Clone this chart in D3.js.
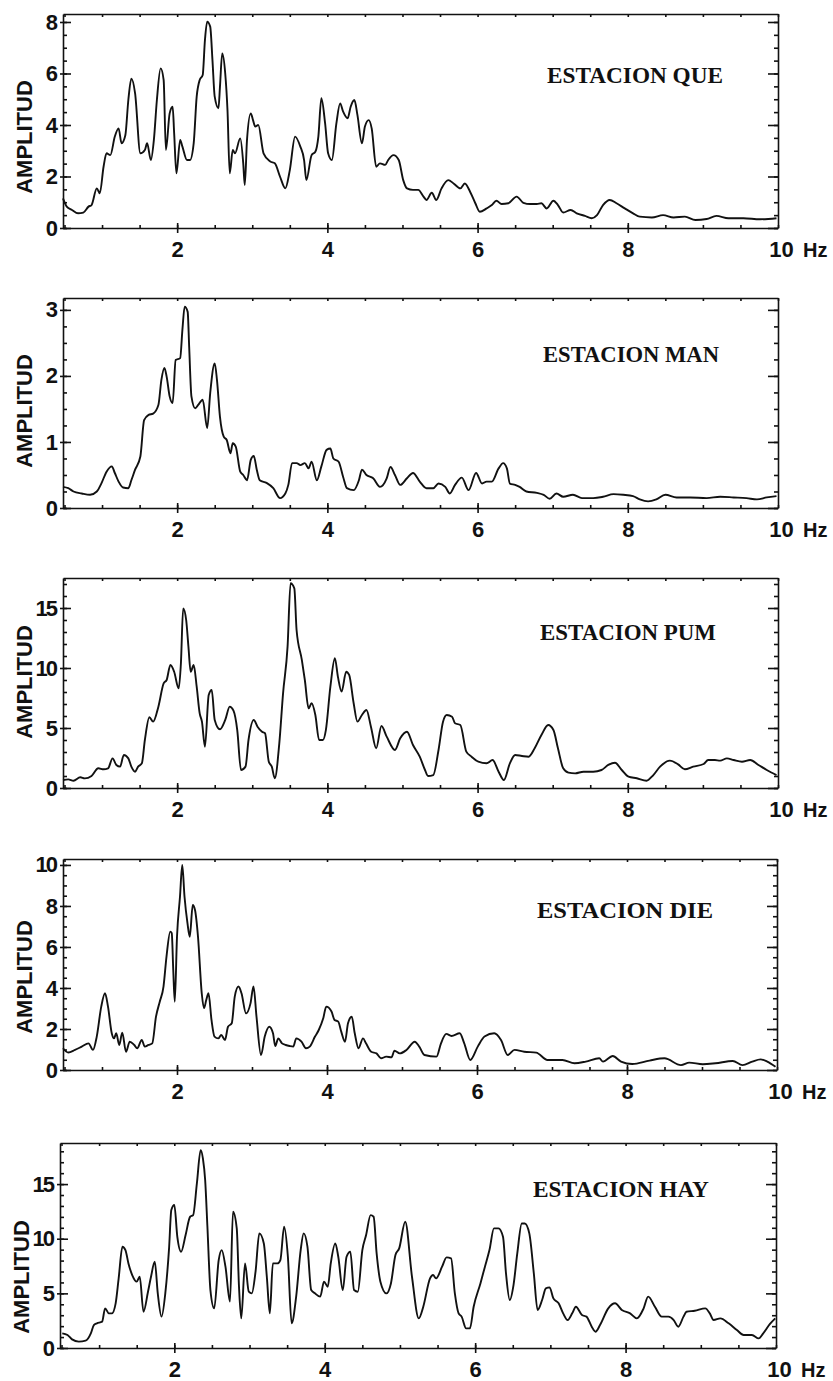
<!DOCTYPE html>
<html>
<head>
<meta charset="utf-8">
<script src="https://cdn.jsdelivr.net/npm/d3@7"></script>
<style>
  body { margin: 0; background: #fff; }
</style>
</head>
<body>
<div id="chart"></div>
<script>
// nombres de las estaciones
var stations = ["QUE", "MAN", "PUM", "DIE", "HAY"];

// espectros [frecuencia Hz, amplitud]
var que = [[0.48,1.15],[0.53,0.83],[0.6,0.7],[0.68,0.57],[0.75,0.6],[0.82,0.83],[0.86,0.89],[0.93,1.54],[0.97,1.35],[1.02,2.38],[1.06,2.9],[1.11,2.83],[1.17,3.55],[1.22,3.87],[1.26,3.29],[1.31,3.6],[1.35,4.97],[1.39,5.8],[1.44,5.23],[1.51,2.9],[1.57,3.03],[1.6,3.29],[1.65,2.64],[1.69,3.42],[1.73,4.97],[1.78,6.2],[1.82,5.75],[1.85,3.03],[1.9,4.45],[1.94,4.71],[1.96,3.68],[1.99,2.12],[2.04,3.42],[2.07,3.16],[2.13,2.64],[2.17,2.64],[2.22,3.29],[2.26,5.1],[2.3,5.75],[2.34,5.94],[2.37,7.3],[2.4,8.01],[2.44,7.82],[2.47,6.52],[2.5,5.1],[2.55,4.65],[2.57,5.49],[2.6,6.78],[2.64,6.0],[2.67,4.58],[2.7,2.12],[2.74,3.03],[2.77,2.9],[2.84,3.48],[2.88,2.51],[2.9,1.67],[2.93,3.42],[2.98,4.45],[3.01,4.19],[3.04,3.94],[3.08,4.0],[3.15,2.9],[3.24,2.58],[3.3,2.51],[3.37,1.99],[3.44,1.54],[3.5,2.25],[3.57,3.55],[3.64,3.16],[3.69,2.64],[3.72,1.86],[3.79,2.83],[3.84,2.96],[3.88,3.55],[3.92,5.04],[3.97,4.06],[4.01,2.9],[4.06,2.64],[4.12,4.06],[4.17,4.84],[4.21,4.52],[4.27,4.26],[4.31,4.71],[4.36,4.97],[4.4,4.39],[4.46,3.29],[4.5,3.94],[4.55,4.19],[4.59,3.87],[4.65,2.38],[4.7,2.51],[4.77,2.45],[4.81,2.64],[4.88,2.83],[4.95,2.64],[5.01,1.86],[5.06,1.54],[5.14,1.48],[5.21,1.48],[5.28,1.22],[5.32,1.09],[5.39,1.37],[5.45,1.09],[5.52,1.54],[5.61,1.86],[5.68,1.73],[5.77,1.54],[5.83,1.73],[5.9,1.41],[5.97,0.96],[6.03,0.63],[6.12,0.76],[6.19,0.89],[6.25,1.06],[6.32,0.93],[6.41,0.96],[6.52,1.22],[6.61,0.98],[6.7,0.93],[6.79,0.93],[6.85,0.96],[6.92,0.76],[7.01,1.06],[7.07,0.89],[7.14,0.6],[7.24,0.7],[7.32,0.57],[7.43,0.47],[7.52,0.38],[7.59,0.5],[7.67,0.89],[7.76,1.09],[7.85,0.96],[7.96,0.76],[8.07,0.57],[8.16,0.44],[8.32,0.41],[8.47,0.5],[8.61,0.41],[8.76,0.44],[8.9,0.31],[9.05,0.35],[9.18,0.47],[9.34,0.38],[9.54,0.38],[9.76,0.34],[9.98,0.38]];

var man = [[0.48,0.32],[0.55,0.3],[0.62,0.25],[0.73,0.22],[0.84,0.2],[0.93,0.25],[0.99,0.37],[1.06,0.55],[1.13,0.63],[1.17,0.53],[1.22,0.4],[1.28,0.31],[1.35,0.3],[1.39,0.42],[1.44,0.58],[1.51,0.78],[1.56,1.33],[1.62,1.41],[1.68,1.43],[1.75,1.56],[1.79,1.94],[1.83,2.12],[1.86,1.99],[1.9,1.69],[1.94,1.59],[1.98,2.24],[2.04,2.27],[2.07,2.7],[2.1,3.05],[2.14,2.97],[2.16,2.44],[2.19,1.69],[2.24,1.51],[2.28,1.56],[2.34,1.64],[2.4,1.21],[2.44,1.74],[2.5,2.19],[2.53,1.94],[2.57,1.38],[2.62,1.08],[2.66,1.03],[2.71,0.83],[2.74,0.98],[2.78,0.93],[2.84,0.55],[2.88,0.5],[2.93,0.42],[2.98,0.73],[3.02,0.79],[3.06,0.58],[3.1,0.42],[3.19,0.38],[3.28,0.3],[3.37,0.15],[3.44,0.22],[3.48,0.35],[3.53,0.68],[3.59,0.68],[3.64,0.65],[3.7,0.68],[3.75,0.6],[3.79,0.7],[3.86,0.42],[3.92,0.63],[3.99,0.88],[4.04,0.9],[4.08,0.75],[4.15,0.7],[4.21,0.47],[4.26,0.3],[4.35,0.27],[4.42,0.42],[4.46,0.58],[4.52,0.5],[4.61,0.45],[4.7,0.32],[4.79,0.45],[4.84,0.62],[4.9,0.5],[4.97,0.35],[5.06,0.45],[5.14,0.53],[5.23,0.4],[5.32,0.3],[5.41,0.3],[5.48,0.37],[5.57,0.32],[5.63,0.22],[5.7,0.35],[5.79,0.46],[5.88,0.27],[5.98,0.53],[6.06,0.37],[6.12,0.4],[6.19,0.4],[6.28,0.6],[6.34,0.68],[6.39,0.6],[6.43,0.37],[6.5,0.35],[6.56,0.32],[6.65,0.25],[6.79,0.23],[6.88,0.2],[6.96,0.14],[7.05,0.22],[7.14,0.17],[7.27,0.2],[7.39,0.15],[7.54,0.15],[7.67,0.17],[7.81,0.21],[7.94,0.2],[8.07,0.18],[8.16,0.13],[8.27,0.1],[8.38,0.13],[8.5,0.2],[8.65,0.16],[8.83,0.16],[9.05,0.15],[9.23,0.17],[9.41,0.16],[9.58,0.15],[9.72,0.13],[9.85,0.16],[9.98,0.18]];

var pum = [[0.48,0.67],[0.55,0.72],[0.62,0.61],[0.71,0.89],[0.77,0.8],[0.86,1.0],[0.95,1.64],[1.02,1.56],[1.08,1.64],[1.14,2.47],[1.19,1.92],[1.24,1.78],[1.29,2.75],[1.35,2.47],[1.39,1.78],[1.44,1.36],[1.48,1.78],[1.53,2.06],[1.57,4.0],[1.63,5.89],[1.68,5.53],[1.75,6.78],[1.82,8.72],[1.86,9.0],[1.91,10.25],[1.96,9.69],[2.02,8.3],[2.05,10.4],[2.08,14.97],[2.12,14.0],[2.15,11.78],[2.18,9.69],[2.22,10.25],[2.26,8.44],[2.3,6.22],[2.33,5.53],[2.37,3.44],[2.42,7.75],[2.46,8.17],[2.5,5.67],[2.57,4.89],[2.64,5.67],[2.7,6.78],[2.75,6.44],[2.8,4.83],[2.85,1.5],[2.91,1.78],[2.95,4.0],[3.02,5.67],[3.07,5.11],[3.13,4.69],[3.17,4.56],[3.22,2.19],[3.26,1.78],[3.3,0.81],[3.36,3.72],[3.41,7.89],[3.47,11.78],[3.51,17.06],[3.56,16.64],[3.59,13.17],[3.66,10.67],[3.7,9.0],[3.75,6.64],[3.79,7.06],[3.84,6.08],[3.89,4.0],[3.94,4.0],[3.98,4.83],[4.04,8.44],[4.1,10.81],[4.14,9.28],[4.19,8.03],[4.25,9.69],[4.29,9.42],[4.35,7.06],[4.4,5.53],[4.46,6.08],[4.52,6.5],[4.58,5.11],[4.65,3.31],[4.72,5.17],[4.79,4.28],[4.9,3.17],[4.97,4.14],[5.06,4.69],[5.14,3.58],[5.23,2.61],[5.3,1.5],[5.34,1.0],[5.41,1.08],[5.48,3.17],[5.54,5.53],[5.59,6.08],[5.66,5.94],[5.7,5.39],[5.77,5.25],[5.85,3.03],[5.92,2.61],[6.01,2.19],[6.12,2.06],[6.2,2.33],[6.28,1.36],[6.35,0.67],[6.43,2.06],[6.5,2.75],[6.59,2.67],[6.68,2.61],[6.76,3.31],[6.85,4.42],[6.94,5.25],[7.01,4.83],[7.07,3.31],[7.14,1.64],[7.21,1.28],[7.3,1.22],[7.41,1.36],[7.54,1.36],[7.65,1.5],[7.74,1.92],[7.83,2.11],[7.92,1.5],[8.01,0.94],[8.12,0.81],[8.25,0.61],[8.34,1.08],[8.43,1.78],[8.56,2.28],[8.67,1.97],[8.76,1.56],[8.87,1.78],[9.01,2.0],[9.07,2.33],[9.16,2.33],[9.23,2.28],[9.32,2.47],[9.41,2.33],[9.52,2.19],[9.63,2.33],[9.74,1.92],[9.85,1.5],[9.98,1.08]];

var die = [[0.48,1.06],[0.55,0.85],[0.64,0.98],[0.73,1.14],[0.82,1.3],[0.88,0.98],[0.93,1.63],[0.99,3.09],[1.04,3.74],[1.08,3.09],[1.13,1.79],[1.16,1.54],[1.19,1.79],[1.23,1.22],[1.27,1.82],[1.32,0.89],[1.37,1.38],[1.43,1.22],[1.47,1.06],[1.53,1.46],[1.57,1.14],[1.62,1.22],[1.67,1.3],[1.72,2.6],[1.77,3.33],[1.82,4.07],[1.86,5.53],[1.91,6.75],[1.93,6.67],[1.95,4.88],[1.97,3.33],[2.0,6.5],[2.04,8.46],[2.07,10.0],[2.1,8.46],[2.14,7.15],[2.17,6.5],[2.21,8.05],[2.24,7.8],[2.28,6.5],[2.33,3.74],[2.36,3.01],[2.39,3.41],[2.42,3.74],[2.46,2.44],[2.5,1.63],[2.55,1.54],[2.59,1.71],[2.64,1.46],[2.68,2.11],[2.73,2.28],[2.77,3.58],[2.82,4.07],[2.86,3.74],[2.92,2.76],[2.98,3.25],[3.02,4.07],[3.06,2.6],[3.12,0.73],[3.17,1.63],[3.23,2.11],[3.28,1.79],[3.31,1.17],[3.35,1.54],[3.4,1.3],[3.45,1.22],[3.5,1.17],[3.55,1.14],[3.59,1.54],[3.66,1.38],[3.72,1.06],[3.77,1.14],[3.84,1.63],[3.89,1.95],[3.95,2.52],[3.99,3.09],[4.06,2.85],[4.1,2.44],[4.15,2.36],[4.19,1.87],[4.24,1.38],[4.28,2.28],[4.33,2.6],[4.37,1.79],[4.42,1.06],[4.48,1.54],[4.52,1.3],[4.59,0.89],[4.66,0.81],[4.72,0.57],[4.79,0.65],[4.86,0.62],[4.9,0.94],[4.97,0.81],[5.06,0.98],[5.17,1.38],[5.23,1.14],[5.3,0.73],[5.46,0.65],[5.52,1.3],[5.59,1.76],[5.66,1.66],[5.77,1.79],[5.83,1.3],[5.91,0.49],[6.01,1.14],[6.1,1.63],[6.23,1.79],[6.32,1.46],[6.41,0.73],[6.5,0.98],[6.63,0.89],[6.79,0.85],[6.94,0.49],[7.14,0.49],[7.3,0.33],[7.45,0.41],[7.63,0.57],[7.68,0.41],[7.81,0.68],[7.92,0.41],[8.07,0.29],[8.3,0.46],[8.5,0.57],[8.72,0.24],[8.83,0.36],[9.01,0.28],[9.18,0.33],[9.41,0.44],[9.54,0.24],[9.67,0.41],[9.78,0.52],[9.87,0.41],[9.98,0.16]];

var hay = [[0.51,1.34],[0.58,1.19],[0.64,0.79],[0.73,0.58],[0.82,0.67],[0.89,1.34],[0.93,2.1],[0.97,2.26],[1.04,2.41],[1.08,3.63],[1.13,3.17],[1.17,3.17],[1.22,4.09],[1.26,6.37],[1.31,9.27],[1.35,8.96],[1.39,7.74],[1.44,6.68],[1.5,6.07],[1.54,6.52],[1.59,3.32],[1.65,5.15],[1.69,6.52],[1.74,7.9],[1.78,5.0],[1.83,2.87],[1.88,5.0],[1.93,9.12],[1.96,12.62],[2.0,13.08],[2.04,10.18],[2.09,8.81],[2.15,10.34],[2.21,12.01],[2.25,12.16],[2.3,15.06],[2.35,18.11],[2.38,17.35],[2.41,15.37],[2.44,11.1],[2.48,5.3],[2.53,3.63],[2.59,8.05],[2.63,8.96],[2.68,7.44],[2.74,4.24],[2.78,12.47],[2.83,10.95],[2.86,5.61],[2.89,2.71],[2.94,7.74],[2.99,5.15],[3.03,5.0],[3.08,6.98],[3.13,10.49],[3.19,9.57],[3.23,6.52],[3.27,3.17],[3.31,7.74],[3.37,7.74],[3.41,8.05],[3.46,11.1],[3.51,8.35],[3.56,2.26],[3.62,4.7],[3.68,8.96],[3.72,10.49],[3.77,9.27],[3.82,5.3],[3.87,5.0],[3.94,4.7],[3.99,6.07],[4.04,5.61],[4.08,7.74],[4.14,9.57],[4.18,8.35],[4.24,5.3],[4.29,8.35],[4.34,8.81],[4.39,5.3],[4.44,5.15],[4.5,8.96],[4.55,10.34],[4.61,12.16],[4.65,12.01],[4.69,8.66],[4.74,6.07],[4.82,5.0],[4.88,5.91],[4.94,8.51],[4.99,9.12],[5.07,11.55],[5.16,6.52],[5.25,2.71],[5.31,3.78],[5.4,6.37],[5.44,6.68],[5.48,6.37],[5.56,7.44],[5.62,8.29],[5.68,8.2],[5.73,5.0],[5.78,3.17],[5.82,2.87],[5.88,1.8],[5.93,1.8],[5.98,3.78],[6.07,5.91],[6.13,7.44],[6.19,8.96],[6.25,10.95],[6.31,10.95],[6.37,10.18],[6.41,6.83],[6.46,4.39],[6.51,5.76],[6.56,8.66],[6.62,11.4],[6.66,11.4],[6.72,10.49],[6.78,6.83],[6.83,3.48],[6.89,4.39],[6.94,5.46],[6.99,5.55],[7.04,4.54],[7.11,4.09],[7.17,3.17],[7.23,2.56],[7.29,3.17],[7.34,3.78],[7.42,3.02],[7.48,2.87],[7.55,1.95],[7.6,1.49],[7.66,2.1],[7.77,3.63],[7.86,4.09],[7.95,3.48],[8.06,3.17],[8.15,2.71],[8.24,3.63],[8.3,4.7],[8.39,3.78],[8.48,2.87],[8.57,2.87],[8.64,2.56],[8.7,1.95],[8.77,2.87],[8.81,3.32],[8.92,3.41],[9.06,3.63],[9.12,3.17],[9.17,2.56],[9.26,2.71],[9.37,2.26],[9.48,1.65],[9.57,1.19],[9.68,1.19],[9.77,0.88],[9.83,1.34],[9.92,2.2],[9.99,2.71]];

// marcas de los ejes
var freqLabels = [2, 4, 6, 8, 10];
var queTicks = [0, 2, 4, 6, 8];
var manTicks = [0, 1, 2, 3];
var pumTicks = [0, 5, 10, 15];
var dieTicks = [0, 2, 4, 6, 8, 10];
var hayTicks = [0, 5, 10, 15];

var series = [que, man, pum, die, hay];
var majorTicks = [queTicks, manTicks, pumTicks, dieTicks, hayTicks];
var minorStep = [0.5, 0.25, 1, 0.5, 1];
var yMax = [8.31, 3.18, 17.5, 10.29, 18.76];

// posicion de cada recuadro en la pagina (pixeles)
var layout = [
  {top: 14,   bottom: 228,  left: 63, right: 778, nameX: 547, nameY: 83,   ampY: 137},
  {top: 298,  bottom: 508,  left: 63, right: 778, nameX: 543, nameY: 362,  ampY: 411},
  {top: 578,  bottom: 788,  left: 63, right: 778, nameX: 540, nameY: 640,  ampY: 682},
  {top: 859,  bottom: 1070, left: 63, right: 777, nameX: 537, nameY: 918,  ampY: 977},
  {top: 1143, bottom: 1348, left: 60, right: 776, nameX: 533, nameY: 1197, ampY: 1277}
];

var ink = "#111";
var sansFont = "'Liberation Sans', Arial, sans-serif";
var serifFont = "'Liberation Serif', 'Times New Roman', serif";

var svg = d3.select("#chart")
  .append("svg")
    .attr("width", 833)
    .attr("height", 1381)
    .style("background", "#fff");

var minorFreq = d3.range(0.5, 10.001, 0.5);

stations.forEach(function(name, i) {
  var L = layout[i];
  var x = d3.scaleLinear().domain([0.48, 10]).range([L.left, L.right]);
  var y = d3.scaleLinear().domain([0, yMax[i]]).range([L.bottom, L.top]);
  var minorY = d3.range(0, yMax[i] + 1e-6, minorStep[i]);

  var g = svg.append("g");

  function styleAxis(sel) {
    sel.selectAll("path, line").attr("stroke", ink).attr("stroke-width", 1.6);
    sel.selectAll("text")
      .attr("fill", ink)
      .attr("font-family", sansFont)
      .attr("font-weight", "bold")
      .attr("font-size", 22);
  }

  // eje izquierdo
  g.append("g")
    .attr("transform", "translate(" + L.left + ",0)")
    .call(d3.axisLeft(y).tickValues(minorY).tickSize(-4).tickSizeOuter(0).tickFormat(""))
    .call(styleAxis);
  g.append("g")
    .attr("transform", "translate(" + L.left + ",0)")
    .call(d3.axisLeft(y).tickValues(majorTicks[i]).tickSize(-8).tickSizeOuter(0)
      .tickPadding(7).tickFormat(d3.format("d")))
    .call(styleAxis)
    .call(function(s) {
      s.select(".domain").remove();
      s.selectAll("text").attr("letter-spacing", -2);
    });
  // pequeña marca hacia fuera en las divisiones principales
  g.append("g")
    .attr("transform", "translate(" + L.left + ",0)")
    .call(d3.axisLeft(y).tickValues(majorTicks[i]).tickSize(3).tickSizeOuter(0).tickFormat(""))
    .call(styleAxis)
    .call(function(s) { s.select(".domain").remove(); });

  // eje derecho
  g.append("g")
    .attr("transform", "translate(" + L.right + ",0)")
    .call(d3.axisRight(y).tickValues(minorY).tickSize(-4).tickSizeOuter(0).tickFormat(""))
    .call(styleAxis);
  g.append("g")
    .attr("transform", "translate(" + L.right + ",0)")
    .call(d3.axisRight(y).tickValues(majorTicks[i]).tickSize(-10).tickSizeOuter(0).tickFormat(""))
    .call(styleAxis)
    .call(function(s) { s.select(".domain").remove(); });

  // eje superior
  g.append("g")
    .attr("transform", "translate(0," + L.top + ")")
    .call(d3.axisTop(x).tickValues(minorFreq).tickSize(-3).tickSizeOuter(0).tickFormat(""))
    .call(styleAxis);

  // eje inferior
  g.append("g")
    .attr("transform", "translate(0," + L.bottom + ")")
    .call(d3.axisBottom(x).tickValues(minorFreq).tickSize(-3).tickSizeOuter(0).tickFormat(""))
    .call(styleAxis);
  var bottomAxis = g.append("g")
    .attr("transform", "translate(0," + L.bottom + ")")
    .call(d3.axisBottom(x).tickValues(freqLabels).tickSize(5).tickSizeOuter(0)
      .tickPadding(8).tickFormat(d3.format("d")))
    .call(styleAxis)
    .call(function(s) { s.select(".domain").remove(); });
  bottomAxis.selectAll(".tick")
    .filter(function(d) { return d === 10; })
    .select("text").attr("x", 3);
  bottomAxis.selectAll(".tick")
    .filter(function(d) { return d === 10; })
    .select("line").remove();
  g.append("g")
    .attr("transform", "translate(0," + L.bottom + ")")
    .call(d3.axisBottom(x).tickValues(freqLabels.slice(0, 4)).tickSize(-5).tickSizeOuter(0).tickFormat(""))
    .call(styleAxis)
    .call(function(s) { s.select(".domain").remove(); });

  g.append("text")
    .attr("x", L.right + 25)
    .attr("y", L.bottom + 29)
    .attr("fill", ink)
    .attr("font-family", sansFont)
    .attr("font-weight", "bold")
    .attr("font-size", 20)
    .text("Hz");

  // titulo del eje y
  g.append("text")
    .attr("transform", "translate(" + (L.left - 31) + "," + L.ampY + ") rotate(-90)")
    .attr("text-anchor", "middle")
    .attr("fill", ink)
    .attr("font-family", sansFont)
    .attr("font-weight", "bold")
    .attr("font-size", 22)
    .text("AMPLITUD");

  // nombre de la estacion
  g.append("text")
    .attr("x", L.nameX)
    .attr("y", L.nameY)
    .attr("fill", ink)
    .attr("font-family", serifFont)
    .attr("font-weight", "bold")
    .attr("font-size", 23)
    .attr("textLength", 176)
    .attr("lengthAdjust", "spacingAndGlyphs")
    .text("ESTACION " + name);

  // espectro
  var line = d3.line()
    .x(function(d) { return x(d[0]); })
    .y(function(d) { return y(d[1]); })
    .curve(d3.curveMonotoneX);

  g.append("path")
    .datum(series[i])
    .attr("d", line)
    .attr("fill", "none")
    .attr("stroke", ink)
    .attr("stroke-width", 1.9)
    .attr("stroke-linejoin", "round");
});
</script>
</body>
</html>
